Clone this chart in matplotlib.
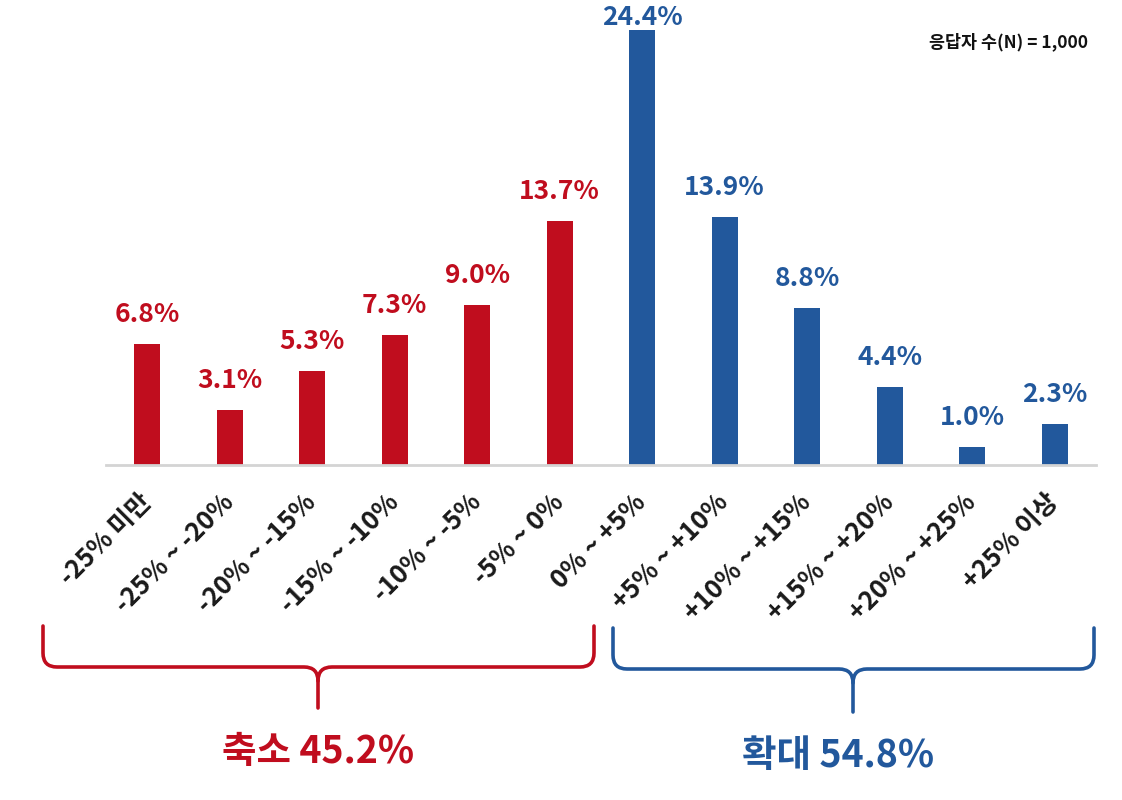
from matplotlib import pyplot as plt
from matplotlib.path import Path
from matplotlib.patches import PathPatch

plt.rcParams['font.family'] = ['Noto Sans CJK KR', 'DejaVu Sans']

categories = ['-25% 미만', '-25% ~ -20%', '-20% ~ -15%', '-15% ~ -10%', '-10% ~ -5%', '-5% ~ 0%',
              '0% ~ +5%', '+5% ~ +10%', '+10% ~ +15%', '+15% ~ +20%', '+20% ~ +25%', '+25% 이상']
values = [6.8, 3.1, 5.3, 7.3, 9.0, 13.7, 24.4, 13.9, 8.8, 4.4, 1.0, 2.3]
groups = ['down'] * 6 + ['up'] * 6
group_labels = {'down': '축소 45.2%', 'up': '확대 54.8%'}

RED = '#c00d1e'
BLUE = '#22589c'
colors = [RED if g == 'down' else BLUE for g in groups]

W, H = 1122, 800
fig = plt.figure(figsize=(W / 100, H / 100), dpi=100)
ax = fig.add_axes([106 / W, (H - 465) / H, 990 / W, 465 / H])

x = list(range(len(values)))
bars = ax.bar(x, values, color=colors, width=0.31)
ymax = 26.1
ax.set_xlim(-0.5, len(values) - 0.5)
ax.set_ylim(0, ymax)

for rect, v, c in zip(bars, values, colors):
    cx = rect.get_x() + rect.get_width() / 2
    if rect.get_height() + 3 > ymax:
        # tallest bar: label sits on the top edge, over the bar
        ax.text(cx, ymax - 0.25, f'{v:.1f}%', ha='center', va='top', color=c,
                fontsize=19, fontweight='bold', clip_on=False)
    else:
        ax.text(cx, rect.get_height() + 0.9, f'{v:.1f}%', ha='center', va='bottom',
                color=c, fontsize=19, fontweight='bold', clip_on=False)

ax.set_xticks(x)
ax.set_xticklabels(categories, rotation=45, ha='right', va='center', rotation_mode='anchor',
                   fontsize=18.5, fontweight='bold', color='#1a1a1a')
ax.tick_params(axis='x', length=0, pad=24)
ax.set_yticks([])
for s in ['top', 'left', 'right']:
    ax.spines[s].set_visible(False)
ax.spines['bottom'].set_color('#d4d4d4')
ax.spines['bottom'].set_linewidth(2)

fig.text(1088 / W, 1 - 42 / H, '응답자 수(N) = 1,000', ha='right', va='center',
         fontsize=12.5, fontweight='bold', color='#111111')


def brace(x0, x1, xm, ytop, ybar, ytip, color):
    def p(px, py):
        return (px / W, 1 - py / H)
    r = 14
    verts = [p(x0, ytop), p(x0, ybar - r), p(x0, ybar), p(x0 + r, ybar),
             p(xm - r, ybar), p(xm, ybar), p(xm, ybar + r), p(xm, ytip)]
    codes = [Path.MOVETO, Path.LINETO, Path.CURVE3, Path.CURVE3,
             Path.LINETO, Path.CURVE3, Path.CURVE3, Path.LINETO]
    verts2 = [p(x1, ytop), p(x1, ybar - r), p(x1, ybar), p(x1 - r, ybar),
              p(xm + r, ybar), p(xm, ybar), p(xm, ybar + r)]
    codes2 = [Path.MOVETO, Path.LINETO, Path.CURVE3, Path.CURVE3,
              Path.LINETO, Path.CURVE3, Path.CURVE3]
    for vv, cc in [(verts, codes), (verts2, codes2)]:
        fig.add_artist(PathPatch(Path(vv, cc), transform=fig.transFigure, fill=False,
                                 edgecolor=color, lw=2.6, capstyle='round', joinstyle='round'))


brace(43, 594, 318, 626, 667, 708, RED)
brace(613, 1094, 853, 628, 669, 712, BLUE)

fig.text(318 / W, 1 - 752 / H, group_labels['down'], ha='center', va='center',
         fontsize=27, fontweight='bold', color=RED)
fig.text(838 / W, 1 - 755 / H, group_labels['up'], ha='center', va='center',
         fontsize=27, fontweight='bold', color=BLUE)

plt.savefig('out.png', dpi=100)
